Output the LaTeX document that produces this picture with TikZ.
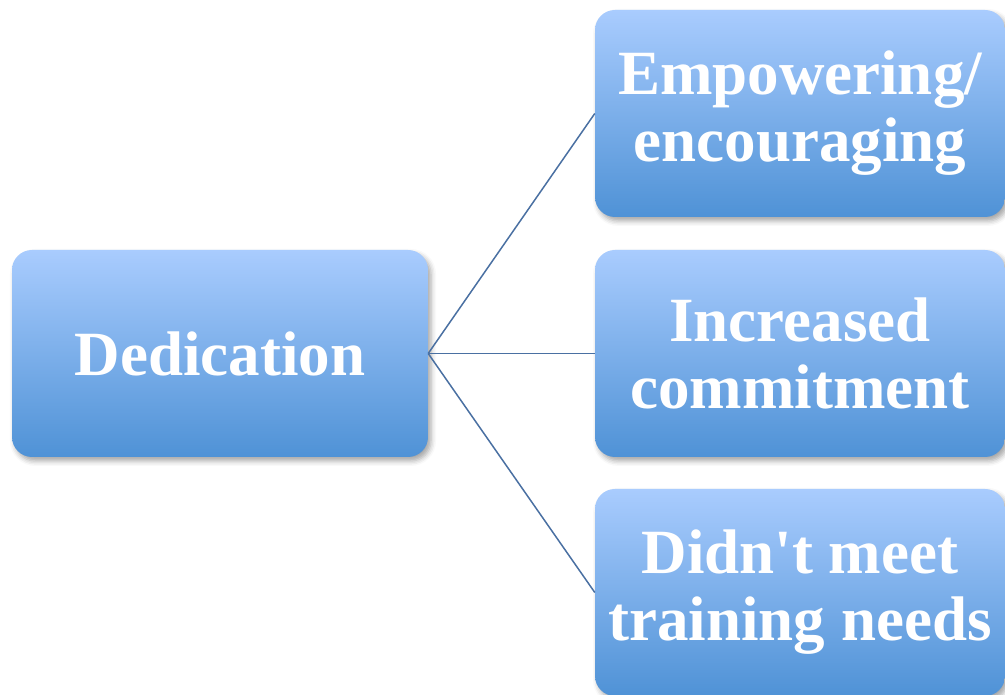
\documentclass[tikz,border=0pt]{standalone}
\usepackage{fontspec}
\setmainfont{Liberation Serif}
\usetikzlibrary{shadows.blur}
\definecolor{boxtop}{HTML}{A9CCFE}
\definecolor{boxbot}{HTML}{4F92D6}
\definecolor{linkc}{HTML}{4A70A2}
\tikzset{
  box/.style={rectangle, rounded corners=20pt, top color=boxtop, bottom color=boxbot,
    draw=none, inner sep=0pt, align=center, text=white,
    font=\bfseries\fontsize{63}{67}\selectfont,
    blur shadow={shadow xshift=3pt, shadow yshift=-4pt, shadow blur radius=5pt, shadow opacity=35}},
  link/.style={draw=linkc, line width=1.5pt}
}
\begin{document}
\begin{tikzpicture}[x=1pt,y=1pt]
\useasboundingbox (0,0) rectangle (1005,695);
\node[box, minimum width=416pt, minimum height=207pt] (ded) at (220,341.5) {Dedication};
\node[box, minimum width=410pt, minimum height=207pt] (emp) at (800,581.5) {Empowering/\\encouraging};
\node[box, minimum width=410pt, minimum height=207pt] (inc) at (800,341.5) {Increased\\commitment};
\node[box, minimum width=410pt, minimum height=207pt] (did) at (800,102.5) {Didn\textquotesingle t meet\\training needs};
\draw[link] (ded.east) -- (emp.west);
\draw[link] (ded.east) -- (inc.west);
\draw[link] (ded.east) -- (did.west);
\end{tikzpicture}
\end{document}
